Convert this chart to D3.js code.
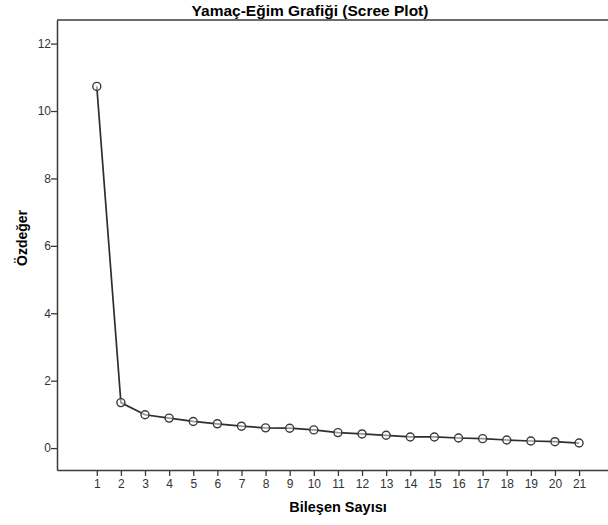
<!DOCTYPE html>
<html>
<head>
<meta charset="utf-8">
<script src="https://cdn.jsdelivr.net/npm/d3@7"></script>
<style>
  body { margin: 0; background: #fff; }
  svg { font-family: "Liberation Sans", Arial, sans-serif; }
</style>
</head>
<body>
<script>
// Bileşen numaraları ve özdeğerler
const components = [1, 2, 3, 4, 5, 6, 7, 8, 9, 10, 11, 12, 13, 14, 15, 16, 17, 18, 19, 20, 21];
const eigenvalues = [10.73, 1.35, 0.99, 0.89, 0.79, 0.72, 0.65, 0.60, 0.59, 0.54, 0.46,
                     0.42, 0.38, 0.33, 0.33, 0.30, 0.28, 0.24, 0.21, 0.19, 0.15];
const yTicks = [0, 2, 4, 6, 8, 10, 12];

const titleText = "Yamaç-Eğim Grafiği (Scree Plot)";
const xLabel = "Bileşen Sayısı";
const yLabel = "Özdeğer";

const width = 608, height = 525;
const plot = { left: 57, right: 608, top: 20, bottom: 470 };

const svg = d3.select("body").append("svg")
  .attr("width", width)
  .attr("height", height);

// Ölçekler
const xScale = d3.scaleLinear()
  .domain([-0.65, 22.2])
  .range([plot.left, plot.right]);

const yScale = d3.scaleLinear()
  .domain([-0.65, 12.7])
  .range([plot.bottom, plot.top]);

const axisColor = "#3a3a3a";

// Üst çizgi
svg.append("line")
  .attr("x1", plot.left).attr("x2", plot.right)
  .attr("y1", plot.top).attr("y2", plot.top)
  .attr("stroke", axisColor).attr("stroke-width", 1.5);

// X ekseni
const xAxis = svg.append("g")
  .attr("transform", `translate(0, ${plot.bottom})`)
  .call(d3.axisBottom(xScale).tickValues(components).tickSize(6).tickSizeOuter(0).tickFormat(d3.format("d")));

// Y ekseni
const yAxis = svg.append("g")
  .attr("transform", `translate(${plot.left}, 0)`)
  .call(d3.axisLeft(yScale).tickValues(yTicks).tickSize(6).tickSizeOuter(0));

[xAxis, yAxis].forEach(ax => {
  ax.select(".domain").attr("stroke", axisColor).attr("stroke-width", 1.5);
  ax.selectAll(".tick line").attr("stroke", axisColor).attr("stroke-width", 1.3);
  ax.selectAll(".tick text")
    .attr("fill", "#333")
    .style("font-size", "12px")
    .style("font-family", "'Liberation Sans', Arial, sans-serif");
});
xAxis.selectAll(".tick text").attr("dy", "0.9em").attr("y", 7);
yAxis.selectAll(".tick text").attr("x", -6);

// Çizgi
const data = components.map((c, i) => ({ c, v: eigenvalues[i] }));
svg.append("path")
  .datum(data)
  .attr("fill", "none")
  .attr("stroke", "#2e2e2e")
  .attr("stroke-width", 1.7)
  .attr("d", d3.line().x(d => xScale(d.c)).y(d => yScale(d.v)));

// Noktalar
svg.selectAll("circle.pt")
  .data(data)
  .enter()
  .append("circle")
  .attr("class", "pt")
  .attr("cx", d => xScale(d.c))
  .attr("cy", d => yScale(d.v))
  .attr("r", 4)
  .attr("fill", "#fff")
  .attr("fill-opacity", 0.5)
  .attr("stroke", "#3a3a3a")
  .attr("stroke-width", 1.4);

// Başlık
svg.append("text")
  .attr("x", 310).attr("y", 16)
  .attr("text-anchor", "middle")
  .style("font-size", "15.5px")
  .style("font-weight", "bold")
  .text(titleText);

// Eksen başlıkları
svg.append("text")
  .attr("x", 338).attr("y", 512)
  .attr("text-anchor", "middle")
  .style("font-size", "14.5px")
  .style("font-weight", "bold")
  .text(xLabel);

svg.append("text")
  .attr("transform", "translate(27, 238) rotate(-90)")
  .attr("text-anchor", "middle")
  .style("font-size", "14px")
  .style("font-weight", "bold")
  .text(yLabel);
</script>
</body>
</html>
